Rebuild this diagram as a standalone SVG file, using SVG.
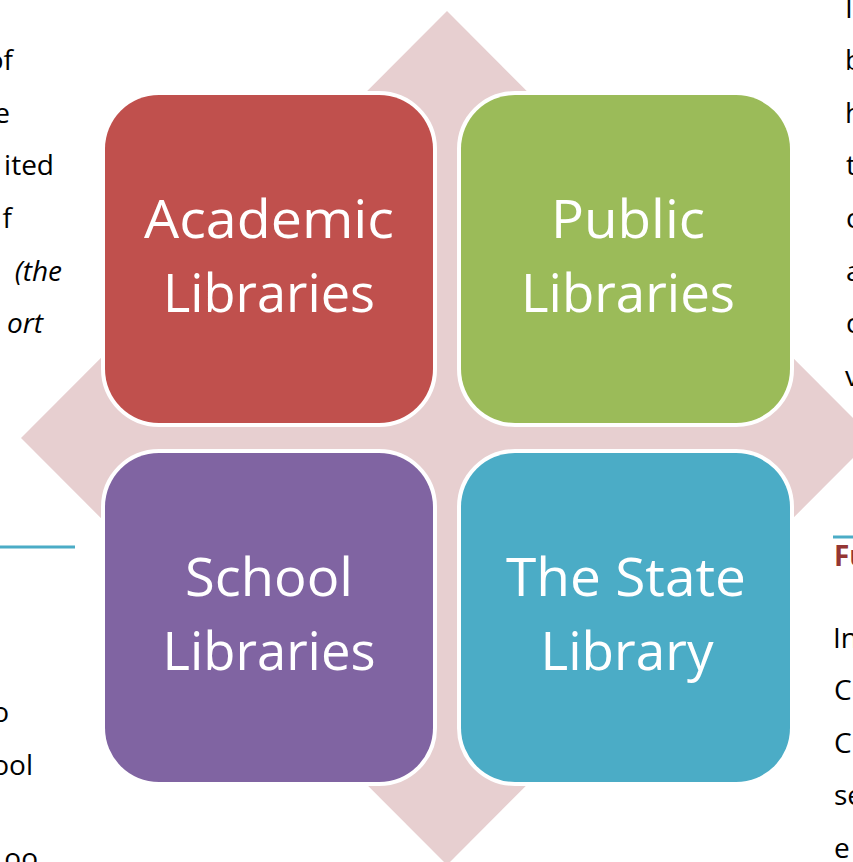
<svg xmlns="http://www.w3.org/2000/svg" width="853" height="862" viewBox="0 0 853 862">
<style>
.body{font-family:"Open Sans","Liberation Sans",sans-serif;font-size:28px;fill:#000}
.it{font-style:italic}
.head{font-family:"Open Sans","Liberation Sans",sans-serif;font-size:28px;font-weight:bold;fill:#943634}
.box{stroke:#fff;stroke-width:8;paint-order:stroke}
.lbl{font-family:"Open Sans","Liberation Sans",sans-serif;font-size:53px;fill:#fff;text-anchor:middle}
.rule{stroke:#4BACC6;stroke-width:3}
</style>
<rect width="853" height="862" fill="#fff"/>
<g id="page-text-left">
<text class="body" x="13" y="70" text-anchor="end">of</text>
<text class="body" x="10" y="123" text-anchor="end">e</text>
<text class="body" x="54" y="175" text-anchor="end">ited</text>
<text class="body" x="12" y="228" text-anchor="end">f</text>
<text class="body it" x="62" y="281" text-anchor="end">(the</text>
<text class="body it" x="43" y="333" text-anchor="end">ort</text>
<line class="rule" x1="0" y1="547" x2="75" y2="547"/>
<text class="body" x="9" y="722" text-anchor="end">o</text>
<text class="body" x="33" y="775" text-anchor="end">ool</text>
<text class="body" x="38" y="868" text-anchor="end">oo</text>
</g>
<g id="page-text-right">
<text class="body" x="845" y="18">I</text>
<text class="body" x="845" y="70">b</text>
<text class="body" x="845" y="123">h</text>
<text class="body" x="846" y="175">t</text>
<text class="body" x="846" y="228">c</text>
<text class="body" x="846" y="281">a</text>
<text class="body" x="846" y="333">c</text>
<text class="body" x="845" y="386">v</text>
<line class="rule" x1="833" y1="537" x2="853" y2="537"/>
<text class="head" x="834" y="566">Fu</text>
<text class="body" x="833" y="648">In</text>
<text class="body" x="834" y="700">C</text>
<text class="body" x="834" y="753">C</text>
<text class="body" x="834" y="805">se</text>
<text class="body" x="834" y="858">e</text>
</g>
<g id="background-diamond">
<polygon points="447,11 21,438 447,865 873,438" fill="#E7CFD0"/>
</g>
<g id="academic">
<rect class="box" x="105" y="95" width="328" height="328" rx="54" fill="#C0504D"/>
<text class="lbl" x="269" y="238" textLength="250" lengthAdjust="spacingAndGlyphs">Academic</text>
<text class="lbl" x="269" y="312" textLength="212" lengthAdjust="spacingAndGlyphs">Libraries</text>
</g>
<g id="public">
<rect class="box" x="461" y="95" width="329" height="328" rx="54" fill="#9BBB59"/>
<text class="lbl" x="628" y="238" textLength="154" lengthAdjust="spacingAndGlyphs">Public</text>
<text class="lbl" x="628" y="312" textLength="214" lengthAdjust="spacingAndGlyphs">Libraries</text>
</g>
<g id="school">
<rect class="box" x="105" y="453" width="328" height="329" rx="54" fill="#8064A2"/>
<text class="lbl" x="269" y="596" textLength="168" lengthAdjust="spacingAndGlyphs">School</text>
<text class="lbl" x="269" y="670" textLength="213" lengthAdjust="spacingAndGlyphs">Libraries</text>
</g>
<g id="state">
<rect class="box" x="461" y="453" width="329" height="329" rx="54" fill="#4BACC6"/>
<text class="lbl" x="626" y="596" textLength="240" lengthAdjust="spacingAndGlyphs">The State</text>
<text class="lbl" x="627" y="670" textLength="173" lengthAdjust="spacingAndGlyphs">Library</text>
</g>
<g id="connectors"/>
</svg>
